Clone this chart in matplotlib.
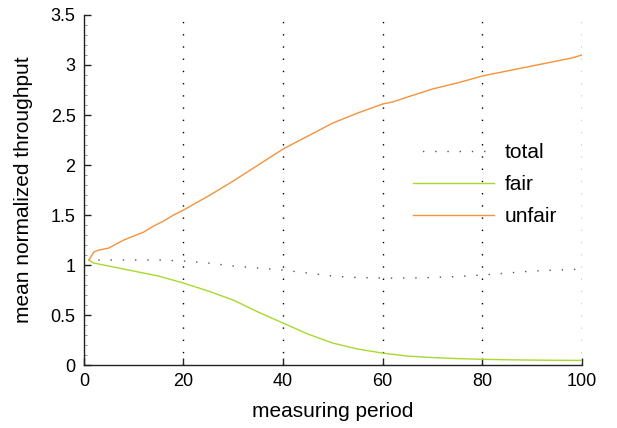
import numpy as np
import matplotlib
matplotlib.use("Agg")
import matplotlib.pyplot as plt
from matplotlib.ticker import MultipleLocator

plt.rcParams['font.family'] = ['Liberation Sans', 'DejaVu Sans']
plt.rcParams['lines.scale_dashes'] = False

# measuring period samples
x_unfair = [1, 2, 3, 5, 8, 10, 12, 14, 16, 18, 20, 25, 30, 35, 40, 45, 50,
            55, 60, 62, 65, 70, 75, 80, 85, 90, 95, 98, 100]
unfair = [1.05, 1.13, 1.15, 1.17, 1.25, 1.29, 1.33, 1.39, 1.44, 1.50, 1.55,
          1.69, 1.84, 2.00, 2.16, 2.29, 2.42, 2.52, 2.61, 2.63, 2.68, 2.76,
          2.82, 2.89, 2.94, 2.99, 3.04, 3.07, 3.10]

x_fair = [1, 2, 5, 10, 15, 20, 25, 30, 35, 40, 45, 50, 55, 60, 65, 70, 75,
          80, 85, 90, 95, 100]
fair = [1.05, 1.02, 0.99, 0.94, 0.89, 0.82, 0.74, 0.65, 0.53, 0.42, 0.31,
        0.22, 0.16, 0.12, 0.09, 0.075, 0.065, 0.058, 0.053, 0.05, 0.048, 0.047]

x_total = [1, 5, 10, 15, 20, 25, 30, 35, 40, 45, 50, 55, 60, 65, 70, 75, 80,
           85, 90, 95, 100]
total = [1.05, 1.05, 1.05, 1.05, 1.04, 1.02, 0.99, 0.97, 0.95, 0.92, 0.89,
         0.875, 0.87, 0.87, 0.875, 0.885, 0.90, 0.92, 0.94, 0.95, 0.96]

ytick_labels = ['0', '0.5', '1', '1.5', '2', '2.5', '3', '3.5']


def main():
    fig = plt.figure(figsize=(6.17, 4.28), dpi=100)
    ax = fig.add_axes([0.136, 0.147, 0.807, 0.818])

    ax.plot(x_total, total, color='#555555', lw=1.0,
            linestyle=(2, (1.0, 7.8)), label='total')
    ax.plot(x_fair, fair, color='#a8d92e', lw=1.0, label='fair')
    ax.plot(x_unfair, unfair, color='#f5923c', lw=1.0, label='unfair')

    # vertical dotted grid
    for gx in [20, 40, 60, 80, 100]:
        ax.axvline(gx, color='black', lw=1.0, linestyle=(0, (1.0, 7.8)),
                   zorder=0)

    ax.set_xlim(0, 100)
    ax.set_ylim(0, 3.5)
    ax.xaxis.set_major_locator(MultipleLocator(20))
    ax.yaxis.set_minor_locator(MultipleLocator(0.1))
    ax.set_yticks(np.arange(0, 3.51, 0.5))
    ax.set_yticklabels(ytick_labels)

    for s in ['top', 'right']:
        ax.spines[s].set_visible(False)
    for s in ['left', 'bottom']:
        ax.spines[s].set_color('#222222')
        ax.spines[s].set_linewidth(1.0)

    ax.tick_params(which='major', direction='in', length=5, width=1,
                   labelsize=13, colors='#222222', labelcolor='black', pad=6)
    ax.tick_params(which='minor', direction='in', length=2, width=0.6,
                   colors='#888888')
    ax.tick_params(axis='x', which='minor', bottom=False)

    ax.set_xlabel('measuring period', fontsize=15, labelpad=8)
    ax.set_ylabel('mean normalized throughput', fontsize=15, labelpad=13)

    ax.legend(loc='upper left', bbox_to_anchor=(0.644, 0.658), frameon=False,
              fontsize=15, handlelength=3.9, handletextpad=0.5,
              labelspacing=0.62, borderaxespad=0)

    fig.savefig('out.png', dpi=100)


if __name__ == "__main__":
    main()
